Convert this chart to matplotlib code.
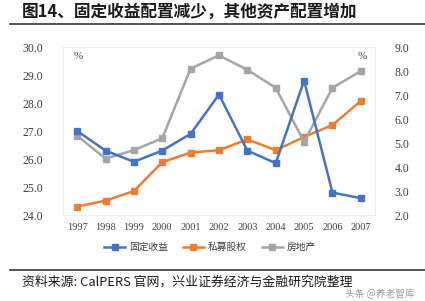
import matplotlib
matplotlib.use("Agg")
import matplotlib.pyplot as plt
from matplotlib.lines import Line2D

years = ["1997", "1998", "1999", "2000", "2001", "2002", "2003", "2004", "2005", "2006", "2007"]
fixed_income = [27.0, 26.3, 25.9, 26.3, 26.9, 28.3, 26.3, 25.85, 28.8, 24.8, 24.6]
private_equity = [2.35, 2.6, 3.0, 4.2, 4.6, 4.7, 5.15, 4.7, 5.25, 5.75, 6.75]
real_estate = [5.3, 4.35, 4.7, 5.2, 8.1, 8.65, 8.05, 7.3, 5.05, 7.3, 8.0]
left_ticks = [24.0, 25.0, 26.0, 27.0, 28.0, 29.0, 30.0]
right_ticks = [2.0, 3.0, 4.0, 5.0, 6.0, 7.0, 8.0, 9.0]
names = ["固定收益", "私募股权", "房地产"]

CJK = ["Noto Sans CJK SC", "DejaVu Sans"]
SERIF = ["Liberation Serif", "Noto Sans CJK SC"]

W, H = 425, 301
fig = plt.figure(figsize=(W / 100, H / 100), dpi=100)
fig.patch.set_facecolor("white")

ax = fig.add_axes([63 / W, 1 - 215 / H, (375 - 63) / W, (215 - 47) / H])
ax2 = ax.twinx()

x = list(range(len(years)))
c_blue, c_orange, c_grey = "#4472C4", "#ED7D31", "#A5A5A5"
ax.plot(x, fixed_income, color=c_blue, marker="s", ms=4, lw=1.8, zorder=5)
ax2.plot(x, private_equity, color=c_orange, marker="s", ms=4, lw=1.8)
ax2.plot(x, real_estate, color=c_grey, marker="s", ms=4, lw=1.8)
ax.set_zorder(ax2.get_zorder() + 1)
ax.patch.set_visible(False)

ax.set_xlim(-0.5, len(years) - 0.5)
ax.set_ylim(24, 30)
ax2.set_ylim(2, 9)
ax.set_yticks(left_ticks)
ax.set_yticklabels([f"{v:.1f}" for v in left_ticks], family=SERIF, fontsize=8.5, color="#404040")
ax2.set_yticks(right_ticks)
ax2.set_yticklabels([f"{v:.1f}" for v in right_ticks], family=SERIF, fontsize=8.5, color="#404040")
ax.set_xticks(x)
ax.set_xticklabels(years, family=SERIF, fontsize=7.5, color="#404040")
for a in (ax, ax2):
    a.tick_params(length=0, pad=14)
    for s in a.spines.values():
        s.set_color("#EDEDED")
        s.set_linewidth(0.8)
ax.tick_params(axis="x", pad=6)
ax2.tick_params(axis="y", pad=14)

ax.text(0.05, 0.97, "%", transform=ax.transAxes, family=SERIF, fontsize=8, color="#404040", va="top", ha="center")
ax.text(0.96, 0.97, "%", transform=ax.transAxes, family=SERIF, fontsize=8, color="#404040", va="top", ha="center")

handles = [Line2D([], [], color=c, marker="s", ms=4, lw=1.8) for c in (c_blue, c_orange, c_grey)]
fig.legend(handles, names, loc="center", bbox_to_anchor=(210 / W, 1 - 247 / H), ncol=3,
           frameon=False, prop={"family": CJK, "size": 7}, handlelength=2.2, columnspacing=1.5,
           handletextpad=0.4, labelcolor="#404040")

fig.text(22 / W, 1 - 12 / H, "图14、固定收益配置减少，其他资产配置增加", family=CJK, fontsize=12,
         fontweight="bold", color="#1a1a1a", va="center", ha="left")
fig.add_artist(Line2D([10 / W, 1.0], [1 - 24 / H, 1 - 24 / H], color="#333344", lw=1.2))
fig.add_artist(Line2D([10 / W, 1.0], [1 - 270 / H, 1 - 270 / H], color="#333344", lw=1.2))
fig.text(22 / W, 1 - 282 / H, "资料来源: CalPERS 官网，兴业证券经济与金融研究院整理", family=CJK, fontsize=9.3,
         color="#1a1a1a", va="center", ha="left")
fig.text(345 / W, 1 - 294 / H, "头条 @养老智库", family=CJK, fontsize=7, color="#888888", alpha=0.85,
         va="center", ha="left")

fig.savefig("out.png", dpi=100, facecolor="white")
